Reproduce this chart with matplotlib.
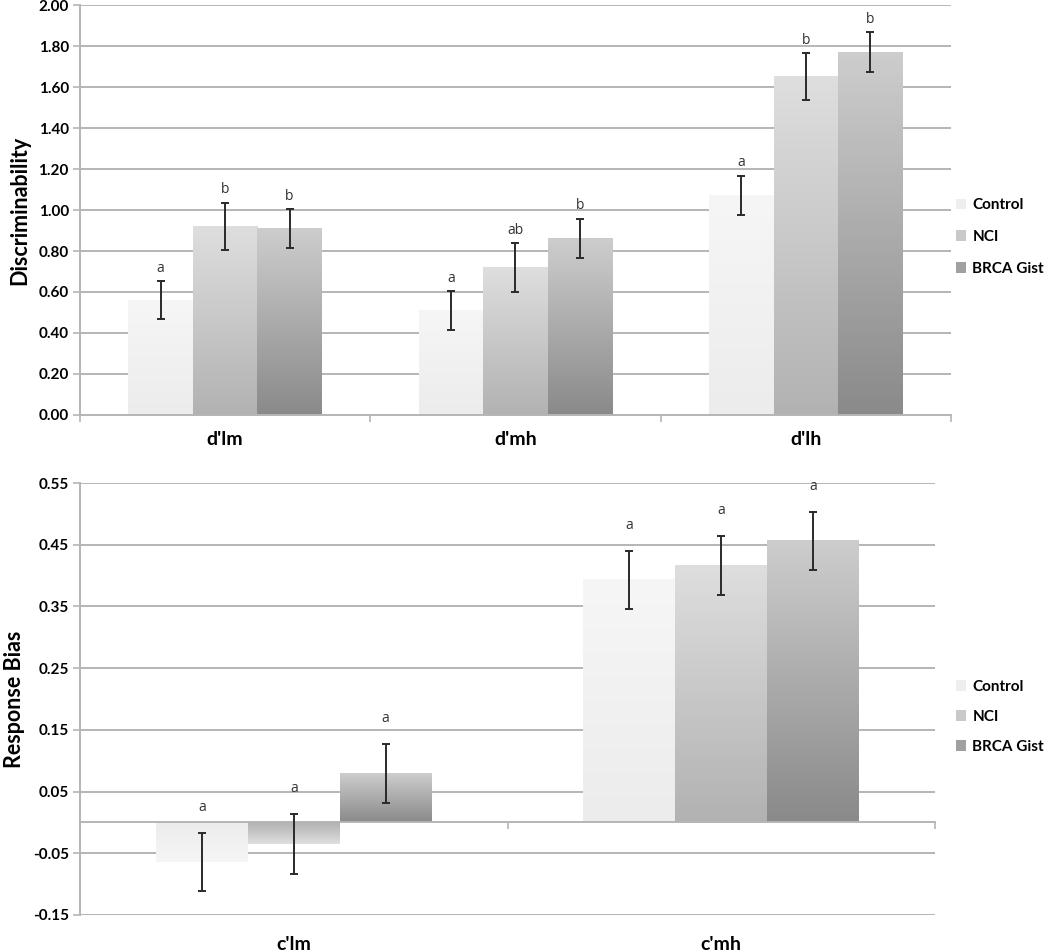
import numpy as np
import matplotlib
matplotlib.use("Agg")
import matplotlib.pyplot as plt
from matplotlib.patches import Patch
from matplotlib.colors import LinearSegmentedColormap

plt.rcParams['font.family'] = ['Lato', 'DejaVu Sans']

groups = ["Control", "NCI", "BRCA Gist"]

# top panel: discriminability
d_cats = ["d'lm", "d'mh", "d'lh"]
d_control = [0.56, 0.51, 1.07]
d_nci = [0.92, 0.72, 1.65]
d_brca = [0.91, 0.86, 1.77]
d_control_err = [0.093, 0.093, 0.096]
d_nci_err = [0.116, 0.118, 0.115]
d_brca_err = [0.094, 0.096, 0.098]
d_control_sig = ["a", "a", "a"]
d_nci_sig = ["b", "ab", "b"]
d_brca_sig = ["b", "b", "b"]

# bottom panel: response bias
c_cats = ["c'lm", "c'mh"]
c_control = [-0.064, 0.393]
c_nci = [-0.035, 0.416]
c_brca = [0.079, 0.456]
c_control_err = [0.047, 0.047]
c_nci_err = [0.048, 0.048]
c_brca_err = [0.048, 0.047]
c_control_sig = ["a", "a"]
c_nci_sig = ["a", "a"]
c_brca_sig = ["a", "a"]

# light (value end) -> dark (base)
grad_colors = [("#f6f6f6", "#ececec"), ("#dedede", "#b2b2b2"), ("#cdcdcd", "#8a8a8a")]
legend_colors = ["#eeeeee", "#c9c9c9", "#a0a0a0"]


def gradient_bars(ax, x, values, errs, sigs, width, colors, sig_offset):
    bars = ax.bar(x, values, width, color="none", edgecolor="none", zorder=2)
    cmap = LinearSegmentedColormap.from_list("g", [colors[0], colors[1]])
    for b, v in zip(bars, values):
        x0 = b.get_x()
        y0 = b.get_y()
        h = b.get_height()
        grad = np.linspace(0, 1, 100).reshape(-1, 1)
        if v >= 0:
            ax.imshow(grad, extent=(x0, x0 + b.get_width(), y0, y0 + h), origin="upper",
                      cmap=cmap, aspect="auto", zorder=2, interpolation="bicubic")
        else:
            ax.imshow(grad, extent=(x0, x0 + b.get_width(), y0 + h, y0), origin="lower",
                      cmap=cmap, aspect="auto", zorder=2, interpolation="bicubic")
    ax.errorbar(x, values, yerr=errs, fmt="none", ecolor="#2a2a2a", elinewidth=1.4,
                capsize=3.2, capthick=1.4, zorder=4)
    for xi, v, e, s in zip(x, values, errs, sigs):
        ax.annotate(s, (xi, v + e), xytext=(0, sig_offset), textcoords="offset points",
                    ha="center", va="bottom", fontsize=10, color="#333333",
                    family=["Open Sans", "DejaVu Sans"])


def style_axis(ax):
    for sp in ["top", "right"]:
        ax.spines[sp].set_visible(False)
    ax.spines["left"].set_color("#b5b5b5")
    ax.spines["left"].set_linewidth(1.4)
    ax.spines["bottom"].set_color("#b5b5b5")
    ax.spines["bottom"].set_linewidth(1.4)
    ax.yaxis.grid(True, color="#b5b5b5", linewidth=1.4, zorder=0)
    ax.set_axisbelow(True)
    ax.tick_params(axis="y", length=5, width=1.2, color="#b5b5b5", labelsize=11, pad=3)
    ax.tick_params(axis="x", which="major", length=5, width=1.2, color="#b5b5b5", labelbottom=False)
    for lbl in ax.get_yticklabels():
        lbl.set_fontweight("bold")


fig = plt.figure(figsize=(10.5, 9.52), dpi=100)

# ---- top ----
ax1 = fig.add_axes([0.0762, 0.5641, 0.8295, 0.4306])
n = len(d_cats)
x = np.arange(n)
w = 0.222
gradient_bars(ax1, x - w, d_control, d_control_err, d_control_sig, w, grad_colors[0], 4)
gradient_bars(ax1, x, d_nci, d_nci_err, d_nci_sig, w, grad_colors[1], 4)
gradient_bars(ax1, x + w, d_brca, d_brca_err, d_brca_sig, w, grad_colors[2], 4)
ax1.set_xlim(-0.5, n - 0.5)
ax1.set_ylim(0, 2.0)
ax1.set_yticks(np.arange(0, 2.01, 0.2))
ax1.yaxis.set_major_formatter(plt.FormatStrFormatter("%.2f"))
ax1.set_xticks(np.arange(-0.5, n, 1.0))
style_axis(ax1)
for i, c in enumerate(d_cats):
    ax1.text(i, -0.06, c, transform=ax1.get_xaxis_transform(), ha="center", va="center",
             fontsize=14, fontweight="bold")
ax1.set_ylabel("Discriminability", fontsize=15.5, fontweight="bold", labelpad=6)
handles = [Patch(facecolor=c, edgecolor="none") for c in legend_colors]
fig.legend(handles, groups, loc="center left", bbox_to_anchor=(0.897, 0.751), frameon=False,
           handlelength=0.7, handleheight=0.7, handletextpad=0.4, labelspacing=1.15,
           prop={"weight": "bold", "size": 11})

# ---- bottom ----
ax2 = fig.add_axes([0.0762, 0.0389, 0.8143, 0.4537])
n2 = len(c_cats)
x2 = np.arange(n2)
w2 = 0.215
gradient_bars(ax2, x2 - w2, c_control, c_control_err, c_control_sig, w2, grad_colors[0], 13)
gradient_bars(ax2, x2, c_nci, c_nci_err, c_nci_sig, w2, grad_colors[1], 13)
gradient_bars(ax2, x2 + w2, c_brca, c_brca_err, c_brca_sig, w2, grad_colors[2], 13)
ax2.set_xlim(-0.5, n2 - 0.5)
ax2.set_ylim(-0.15, 0.55)
ax2.set_yticks(np.arange(-0.15, 0.551, 0.1))
ax2.yaxis.set_major_formatter(plt.FormatStrFormatter("%.2f"))
ax2.set_xticks(np.arange(0.5, n2, 1.0))
style_axis(ax2)
ax2.spines["bottom"].set_position(("data", 0))
ax2.axhline(-0.15, color="#b5b5b5", linewidth=1.4, zorder=0)
for i, c in enumerate(c_cats):
    ax2.text(i, -0.068, c, transform=ax2.get_xaxis_transform(), ha="center", va="center",
             fontsize=14, fontweight="bold")
ax2.set_ylabel("Response Bias", fontsize=15.5, fontweight="bold", labelpad=6)
fig.legend(handles, groups, loc="center left", bbox_to_anchor=(0.897, 0.247), frameon=False,
           handlelength=0.7, handleheight=0.7, handletextpad=0.4, labelspacing=1.05,
           prop={"weight": "bold", "size": 11})

fig.savefig("out.png", dpi=100)
